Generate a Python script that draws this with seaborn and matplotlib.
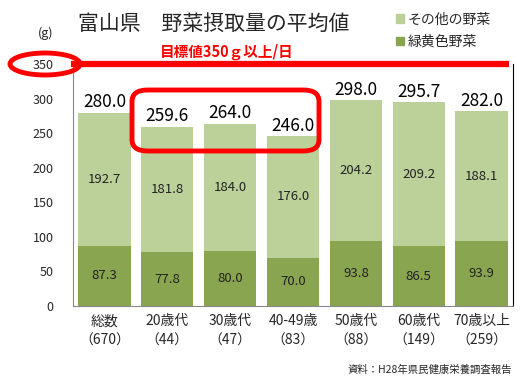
import numpy as np
import pandas as pd
import matplotlib
matplotlib.use("Agg")
import matplotlib.pyplot as plt
import seaborn as sns
from matplotlib.patches import Ellipse, FancyBboxPatch, Patch

# data
groups = ["総数", "20歳代", "30歳代", "40-49歳", "50歳代", "60歳代", "70歳以上"]
counts = ["670", "44", "47", "83", "88", "149", "259"]
green_yellow = [87.3, 77.8, 80.0, 70.0, 93.8, 86.5, 93.9]
other_veg = [192.7, 181.8, 184.0, 176.0, 204.2, 209.2, 188.1]
totals = [280.0, 259.6, 264.0, 246.0, 298.0, 295.7, 282.0]
target = 350
yticks = [0, 50, 100, 150, 200, 250, 300, 350]

light = "#bcd19a"
dark = "#8aa550"
red = "#ff0000"

sns.set_theme(style="white")
plt.rcParams["font.family"] = ["Noto Sans CJK JP", "DejaVu Sans"]

df = pd.DataFrame({"group": groups, "gy": green_yellow, "other": other_veg,
                   "total": totals})

fig = plt.figure(figsize=(5.21, 3.80), dpi=100)
ax = fig.add_axes([73 / 521, 1 - 306 / 380, 440 / 521, 241.5 / 380])

sns.barplot(data=df, x="group", y="total", color=light, width=0.83,
            saturation=1, linewidth=0, ax=ax)
sns.barplot(data=df, x="group", y="gy", color=dark, width=0.83,
            saturation=1, linewidth=0, ax=ax)

ax.set_xlim(-0.5, len(groups) - 0.5)
ax.set_ylim(0, target)
ax.set_yticks(yticks)
ax.set_yticklabels([str(t) for t in yticks], fontsize=9)
ax.set_xticks(range(len(groups)))
ax.set_xticklabels([f"{g}\n（{c}）" for g, c in zip(groups, counts)],
                   fontsize=10, linespacing=1.5)
ax.set_xlabel("")
ax.set_ylabel("")
ax.tick_params(axis="y", direction="in", length=3, pad=14, color="#888888")
ax.tick_params(axis="x", length=0, pad=6)
for s in ["left", "bottom"]:
    ax.spines[s].set_color("#888888")
    ax.spines[s].set_linewidth(0.8)
ax.spines["top"].set_visible(False)
ax.spines["right"].set_color("black")
ax.spines["right"].set_linewidth(0.8)

# value labels
for i in range(len(groups)):
    ax.text(i, green_yellow[i] / 2, f"{green_yellow[i]:.1f}", ha="center",
            va="center", fontsize=9.5, color="#222222")
    ax.text(i, green_yellow[i] + other_veg[i] / 2, f"{other_veg[i]:.1f}",
            ha="center", va="center", fontsize=9.5, color="#222222")
    ax.text(i, totals[i] + 2, f"{totals[i]:.1f}", ha="center", va="bottom",
            fontsize=12.5, color="black")

# target line
ax.plot([-0.53, 6.43], [target, target], color=red, lw=4.5,
        solid_capstyle="butt", clip_on=False, zorder=5)
fig.text(160 / 521, 1 - 52 / 380, "目標値350ｇ以上/日", color=red,
         fontsize=10.5, fontweight="bold", va="center", ha="left")

# ellipse around 350
fig.patches.append(Ellipse((45 / 521, 1 - 64 / 380), 70 / 521, 22 / 380,
                           transform=fig.transFigure, fill=False,
                           edgecolor=red, lw=3.5))

# rounded box around 20-40s
fig.patches.append(FancyBboxPatch((132 / 521, 1 - 151 / 380), 187 / 521,
                                  61 / 380,
                                  boxstyle="round,pad=0,rounding_size=0.03",
                                  transform=fig.transFigure, fill=False,
                                  edgecolor=red, lw=3.5))

fig.text(78 / 521, 1 - 24 / 380, "富山県　野菜摂取量の平均値", fontsize=15,
         va="center", ha="left")
fig.text(46 / 521, 1 - 33 / 380, "(g)", fontsize=9, va="center",
         ha="center")

handles = [Patch(color=light, label="その他の野菜"),
           Patch(color=dark, label="緑黄色野菜")]
fig.legend(handles=handles, loc="upper left", bbox_to_anchor=(383 / 521, 1.0),
           frameon=False, fontsize=10, handlelength=0.6, handleheight=0.6,
           handletextpad=0.3, labelspacing=0.6)

fig.text(512 / 521, 1 - 370 / 380, "資料：H28年県民健康栄養調査報告",
         fontsize=7.5, ha="right", va="center")

fig.savefig("out.png", dpi=100)
